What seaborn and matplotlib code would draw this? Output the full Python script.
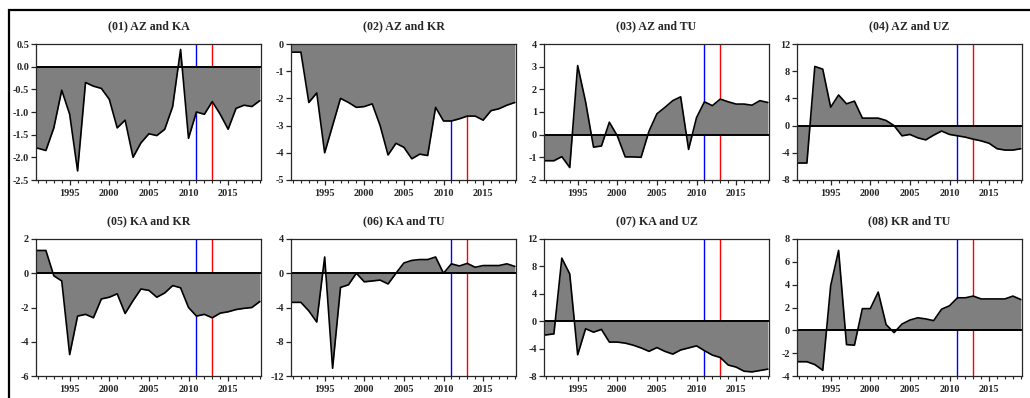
import matplotlib
matplotlib.use("Agg")
import matplotlib.pyplot as plt
import numpy as np
import pandas as pd
import seaborn as sns
from matplotlib.patches import Rectangle
from matplotlib.ticker import FixedLocator, FormatStrFormatter

# annual observations; the first entry is the value at the left edge of each panel
YEARS = list(range(1990, 2020))

AZ_KA = [-1.8, -1.8, -1.85, -1.35, -0.52, -1.05, -2.3, -0.35, -0.43, -0.48, -0.72,
         -1.35, -1.18, -2.0, -1.68, -1.48, -1.52, -1.38, -0.88, 0.38, -1.58,
         -1.0, -1.05, -0.77, -1.05, -1.38, -0.92, -0.85, -0.88, -0.75]
AZ_KR = [-0.3, -0.3, -0.3, -2.15, -1.8, -4.0, -3.0, -2.0, -2.15, -2.33, -2.3,
         -2.2, -3.0, -4.08, -3.65, -3.8, -4.22, -4.05, -4.1, -2.33, -2.83,
         -2.83, -2.75, -2.65, -2.65, -2.8, -2.45, -2.38, -2.25, -2.15]
AZ_TU = [-1.15, -1.15, -1.15, -0.97, -1.45, 3.05, 1.45, -0.55, -0.5, 0.55, -0.05,
         -0.98, -0.98, -1.0, 0.15, 0.92, 1.2, 1.5, 1.67, -0.65, 0.75,
         1.45, 1.28, 1.57, 1.45, 1.35, 1.35, 1.3, 1.5, 1.42]
AZ_UZ = [-5.5, -5.5, -5.5, 8.7, 8.3, 2.7, 4.5, 3.2, 3.6, 1.1, 1.1,
         1.1, 0.75, 0.0, -1.5, -1.3, -1.8, -2.1, -1.4, -0.8, -1.3,
         -1.5, -1.7, -2.0, -2.25, -2.6, -3.4, -3.6, -3.6, -3.4]
KA_KR = [1.33, 1.33, 1.33, -0.15, -0.45, -4.75, -2.5, -2.4, -2.6, -1.5, -1.4,
         -1.2, -2.35, -1.6, -0.92, -1.0, -1.4, -1.15, -0.72, -0.85, -2.0,
         -2.5, -2.4, -2.6, -2.33, -2.25, -2.12, -2.05, -2.0, -1.65]
KA_TU = [-3.4, -3.4, -3.4, -4.4, -5.7, 1.9, -11.1, -1.65, -1.35, 0.0, -1.0,
         -0.9, -0.8, -1.25, 0.0, 1.2, 1.5, 1.6, 1.6, 1.9, 0.0,
         1.1, 0.85, 1.15, 0.7, 0.9, 0.9, 0.9, 1.1, 0.8]
KA_UZ = [-2.0, -2.0, -1.85, 9.2, 6.9, -4.9, -1.1, -1.6, -1.2, -3.05, -3.05,
         -3.2, -3.5, -3.9, -4.4, -3.85, -4.4, -4.8, -4.2, -3.9, -3.6,
         -4.3, -4.95, -5.3, -6.4, -6.7, -7.3, -7.4, -7.2, -7.0]
KR_TU = [-2.75, -2.75, -2.75, -3.0, -3.5, 3.9, 7.0, -1.25, -1.3, 1.9, 1.9,
         3.35, 0.5, -0.2, 0.55, 0.9, 1.1, 1.0, 0.85, 1.85, 2.15,
         2.85, 2.85, 3.0, 2.75, 2.75, 2.75, 2.75, 3.0, 2.7]

TITLES = ["(01) AZ and KA", "(02) AZ and KR", "(03) AZ and TU", "(04) AZ and UZ",
          "(05) KA and KR", "(06) KA and TU", "(07) KA and UZ", "(08) KR and TU"]
SERIES = [AZ_KA, AZ_KR, AZ_TU, AZ_UZ, KA_KR, KA_TU, KA_UZ, KR_TU]
Y_TICKS = [
    [-2.5, -2.0, -1.5, -1.0, -0.5, 0.0, 0.5],
    [-5, -4, -3, -2, -1, 0],
    [-2, -1, 0, 1, 2, 3, 4],
    [-8, -4, 0, 4, 8, 12],
    [-6, -4, -2, 0, 2],
    [-12, -8, -4, 0, 4],
    [-8, -4, 0, 4, 8, 12],
    [-4, -2, 0, 2, 4, 6, 8],
]
BREAK_BLUE = 2011
BREAK_RED = 2013

FONT = "Liberation Serif"


def _style():
    sns.set_style("ticks")
    plt.rcParams["font.family"] = [FONT, "DejaVu Serif"]
    plt.rcParams["font.weight"] = "bold"
    plt.rcParams["axes.unicode_minus"] = False


def draw_panel(ax, title, values, yticks):
    df = pd.DataFrame({"year": YEARS, "value": values})
    ax.axvline(BREAK_BLUE, color="#0000ff", lw=1.0, zorder=1)
    ax.axvline(BREAK_RED, color="#ff0000", lw=1.0, zorder=1)
    ax.fill_between(df["year"], df["value"], 0, color="#7f7f7f", lw=0, zorder=2)
    sns.lineplot(data=df, x="year", y="value", color="black", lw=1.2, ax=ax, zorder=3)
    ax.axhline(0, color="black", lw=1.4, zorder=4)

    ax.set_xlim(1990.75, 2019.15)
    ax.set_ylim(yticks[0], yticks[-1])
    ax.xaxis.set_major_locator(FixedLocator([1995, 2000, 2005, 2010, 2015]))
    ax.xaxis.set_minor_locator(FixedLocator(list(range(1991, 2020))))
    ax.yaxis.set_major_locator(FixedLocator(yticks))
    if isinstance(yticks[0], float):
        ax.yaxis.set_major_formatter(FormatStrFormatter("%.1f"))
    ax.tick_params(axis="both", which="major", direction="out", length=3.5, width=0.9,
                   labelsize=7.4, pad=1.5)
    ax.tick_params(axis="x", which="minor", direction="out", length=2, width=0.8)
    ax.tick_params(axis="x", which="major", pad=3)
    for lab in ax.get_xticklabels() + ax.get_yticklabels():
        lab.set_fontweight("bold")
    for sp in ax.spines.values():
        sp.set_visible(True)
        sp.set_linewidth(0.9)
        sp.set_zorder(5)
    ax.set_xlabel("")
    ax.set_ylabel("")
    ax.set_title(title, fontsize=8.6, fontweight="bold", pad=10.5)


def main():
    _style()
    W, H = 1030, 398
    fig = plt.figure(figsize=(W / 100, H / 100), dpi=100)
    lefts = [36, 291, 544, 797]
    rows = [(44, 180), (239, 376)]
    width = 225
    for i, (title, values, yticks) in enumerate(zip(TITLES, SERIES, Y_TICKS)):
        top, bottom = rows[i // 4]
        left = lefts[i % 4]
        ax = fig.add_axes([left / W, 1 - bottom / H, width / W, (bottom - top) / H])
        draw_panel(ax, title, values, yticks)

    fig.patches.append(Rectangle((9 / W, -0.05), 1.1, 0.05 + 1 - 10.5 / H,
                                 transform=fig.transFigure, fill=False,
                                 edgecolor="black", lw=1.6))
    fig.savefig("out.png", dpi=100)
    plt.close(fig)


if __name__ == "__main__":
    main()
